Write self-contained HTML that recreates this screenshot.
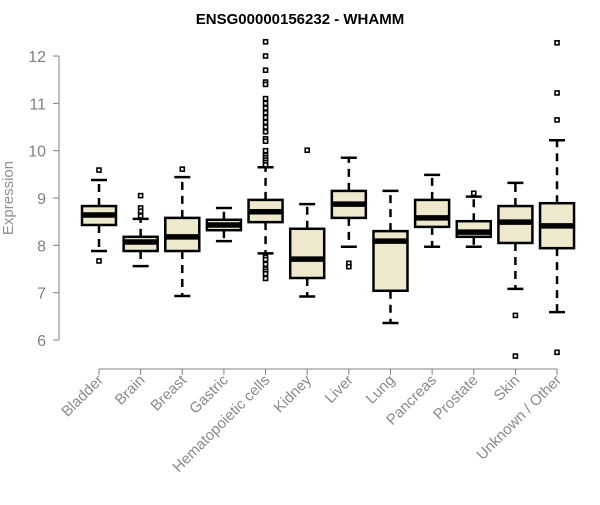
<!DOCTYPE html>
<html><head><meta charset="utf-8"><style>
body{margin:0;background:#fff;}
svg text{font-family:"Liberation Sans",sans-serif;}
</style></head><body>
<svg id="chart" width="600" height="500" xmlns="http://www.w3.org/2000/svg">
<text x="300" y="24" text-anchor="middle" font-size="15" font-weight="bold">ENSG00000156232 - WHAMM</text>
<text transform="translate(13,198) rotate(-90)" text-anchor="middle" font-size="15" fill="#909090">Expression</text>
<g id="axes"></g><g id="marks"></g>
</svg>
<script>
const categories=["Bladder","Brain","Breast","Gastric","Hematopoietic cells","Kidney","Liver","Lung","Pancreas","Prostate","Skin","Unknown / Other"];
const whiskerLow=[7.88,7.56,6.93,8.09,7.83,6.92,7.97,6.36,7.97,7.97,7.08,6.59];
const q1=[8.43,7.88,7.88,8.32,8.49,7.31,8.58,7.04,8.39,8.18,8.05,7.94];
const median=[8.64,8.07,8.18,8.43,8.71,7.71,8.87,8.09,8.58,8.28,8.49,8.41];
const q3=[8.83,8.18,8.58,8.54,8.96,8.35,9.15,8.30,8.96,8.51,8.83,8.89];
const whiskerHigh=[9.38,8.56,9.44,8.79,9.65,8.87,9.85,9.15,9.49,9.03,9.32,10.22];
const outliers=[[9.59,7.67],[9.05,8.79,8.72,8.62],[9.61],[],
[12.3,12.0,11.7,11.45,11.4,11.1,11.0,10.9,10.8,10.7,10.6,10.5,10.4,10.25,10.2,10.0,9.9,9.85,9.8,9.75,9.7,7.75,7.7,7.6,7.5,7.45,7.4,7.3],
[10.01],[7.62,7.55],[],[],[9.1],[6.52,5.66],[12.28,11.22,10.65,5.74]];
const yTicks=[6,7,8,9,10,11,12];
const NS="http://www.w3.org/2000/svg";
const y=v=>340-(v-6)*47.33;
const x=i=>99+i*41.64;
function mk(tag,attrs,parent){const e=document.createElementNS(NS,tag);for(const k in attrs)e.setAttribute(k,attrs[k]);parent.appendChild(e);return e;}
const axes=document.getElementById('axes'),marks=document.getElementById('marks');
let yl=mk('line',{x1:59,x2:59,y1:y(6),y2:y(12),stroke:'#808080'},axes);


yTicks.forEach(t=>{
 let l=mk('line',{x1:53,x2:59,y1:y(t),y2:y(t),stroke:'#808080'},axes);
 
 
 let tx=mk('text',{x:46,y:y(t)+6,'text-anchor':'end','font-size':16,fill:'#808080'},axes);
 tx.textContent=t;
 
 
});
let xl=mk('line',{x1:x(0),x2:x(categories.length-1),y1:369,y2:369,stroke:'#808080'},axes);


categories.forEach((c,i)=>{
 const cx=x(i),hw=17,cap=8;
 let t=mk('line',{x1:cx,x2:cx,y1:369,y2:375,stroke:'#808080'},axes);
 
 
 let lb=mk('text',{transform:`translate(${cx+5},${381}) rotate(-45)`,'text-anchor':'end','font-size':15,fill:'#8a8a8a'},axes);
 lb.textContent=c;
 
 
 const g=mk('g',{},marks);
 
 
 mk('line',{x1:cx,x2:cx,y1:y(q3[i]),y2:y(whiskerHigh[i]),stroke:'#000','stroke-width':2.5,'stroke-dasharray':'8,6'},g);
 mk('line',{x1:cx,x2:cx,y1:y(q1[i]),y2:y(whiskerLow[i]),stroke:'#000','stroke-width':2.5,'stroke-dasharray':'8,6'},g);
 mk('line',{x1:cx-cap,x2:cx+cap,y1:y(whiskerHigh[i]),y2:y(whiskerHigh[i]),stroke:'#000','stroke-width':2.5},g);
 mk('line',{x1:cx-cap,x2:cx+cap,y1:y(whiskerLow[i]),y2:y(whiskerLow[i]),stroke:'#000','stroke-width':2.5},g);
 mk('rect',{x:cx-hw,y:y(q3[i]),width:hw*2,height:y(q1[i])-y(q3[i]),fill:'#EEE8CD',stroke:'#000','stroke-width':2.5},g);
 mk('line',{x1:cx-hw,x2:cx+hw,y1:y(median[i]),y2:y(median[i]),stroke:'#000','stroke-width':5.5},g);
 outliers[i].forEach(v=>{
  let o=mk('rect',{x:cx-2,y:y(v)-2,width:4,height:4,fill:'#fff',stroke:'#000','stroke-width':1.6},g);
  
  
 });
});
</script>
</body></html>
